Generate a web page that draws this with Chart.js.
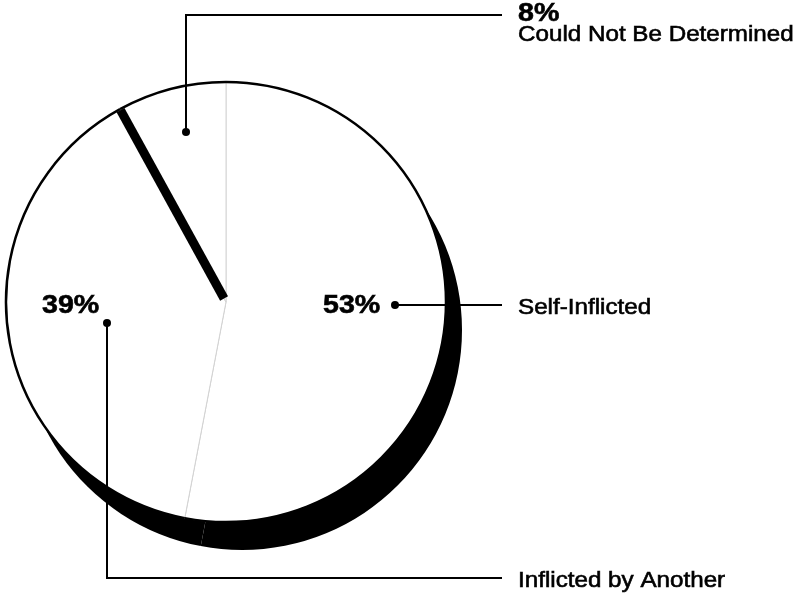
<!DOCTYPE html>
<html>
<head>
<meta charset="utf-8">
<script src="https://cdn.jsdelivr.net/npm/chart.js@4"></script>
<style>
  html, body { margin: 0; padding: 0; background: #fff; }
  #wrap { width: 797px; height: 598px; position: relative; }
</style>
</head>
<body>
<div id="wrap"><canvas id="pieChart"></canvas></div>
<script>
// 資料
const categories = ['Self-Inflicted', 'Inflicted by Another', 'Could Not Be Determined'];
const percents = [53, 39, 8];

// 標註版面（引線、圓點、文字位置）
const callouts = [
    { dot: [395, 305], path: [[395, 305], [502, 305]], pct: [323, 313], name: [518, 314] },
    { dot: [107, 323], path: [[107, 323], [107, 578], [502, 578]], pct: [42, 313], name: [518, 587] },
    { dot: [186, 132], path: [[186, 132], [186, 15], [502, 15]], pct: [518, 21], name: [518, 41] }
];

const FONT = '"Liberation Sans", Arial, Helvetica, sans-serif';
const SHADOW_DX = 16, SHADOW_DY = 28;

function stretchedText(ctx, text, x, y, font, heavy) {
    ctx.save();
    ctx.font = font;
    ctx.translate(x, y);
    ctx.scale(1.1, 1);
    ctx.fillText(text, 0, 0);
    if (heavy) {
        ctx.lineWidth = heavy;
        ctx.strokeText(text, 0, 0);
    }
    ctx.restore();
}

const piePlugin = {
    id: 'pieLook',
    beforeDatasetsDraw(chart) {
        // 黑色陰影
        const ctx = chart.ctx;
        const arcs = chart.getDatasetMeta(0).data;
        ctx.save();
        ctx.fillStyle = '#000';
        arcs.forEach(a => {
            ctx.beginPath();
            ctx.moveTo(a.x + SHADOW_DX, a.y + SHADOW_DY);
            ctx.arc(a.x + SHADOW_DX, a.y + SHADOW_DY, a.outerRadius, a.startAngle, a.endAngle);
            ctx.closePath();
            ctx.fill();
        });
        ctx.restore();
    },
    afterDatasetsDraw(chart) {
        const ctx = chart.ctx;
        const arcs = chart.getDatasetMeta(0).data;
        ctx.save();
        // 外框
        ctx.strokeStyle = '#000';
        ctx.lineWidth = 2.5;
        arcs.forEach(a => {
            ctx.beginPath();
            ctx.arc(a.x, a.y, a.outerRadius, a.startAngle, a.endAngle);
            ctx.stroke();
        });
        // 8% 扇形起始邊的粗黑線
        const a = arcs[2];
        const ang = a.startAngle;
        ctx.lineWidth = 9;
        ctx.lineCap = 'butt';
        ctx.beginPath();
        ctx.moveTo(a.x + Math.cos(ang) * 4, a.y + Math.sin(ang) * 4);
        ctx.lineTo(a.x + Math.cos(ang) * (a.outerRadius - 1), a.y + Math.sin(ang) * (a.outerRadius - 1));
        ctx.stroke();
        ctx.restore();
    },
    afterDraw(chart) {
        const ctx = chart.ctx;
        ctx.save();
        ctx.strokeStyle = '#000';
        ctx.fillStyle = '#000';
        ctx.lineWidth = 2;
        callouts.forEach((c, i) => {
            ctx.beginPath();
            c.path.forEach((p, j) => j === 0 ? ctx.moveTo(p[0], p[1]) : ctx.lineTo(p[0], p[1]));
            ctx.stroke();
            ctx.beginPath();
            ctx.arc(c.dot[0], c.dot[1], 4, 0, Math.PI * 2);
            ctx.fill();
            stretchedText(ctx, percents[i] + '%', c.pct[0], c.pct[1], 'bold 26px ' + FONT, 0.6);
            stretchedText(ctx, categories[i], c.name[0], c.name[1], '22px ' + FONT, 0.6);
        });
        ctx.restore();
    }
};

const ctx = document.getElementById('pieChart').getContext('2d');
new Chart(ctx, {
    type: 'pie',
    data: {
        labels: categories,
        datasets: [{
            data: percents,
            backgroundColor: '#ffffff',
            borderColor: '#d4d4d4',
            borderWidth: 1
        }]
    },
    options: {
        responsive: true,
        maintainAspectRatio: false,
        animation: false,
        radius: 220,
        layout: { padding: { left: 0, right: 345, top: 6, bottom: 0 } },
        plugins: {
            legend: { display: false },
            tooltip: { enabled: false }
        }
    },
    plugins: [piePlugin]
});
</script>
</body>
</html>
